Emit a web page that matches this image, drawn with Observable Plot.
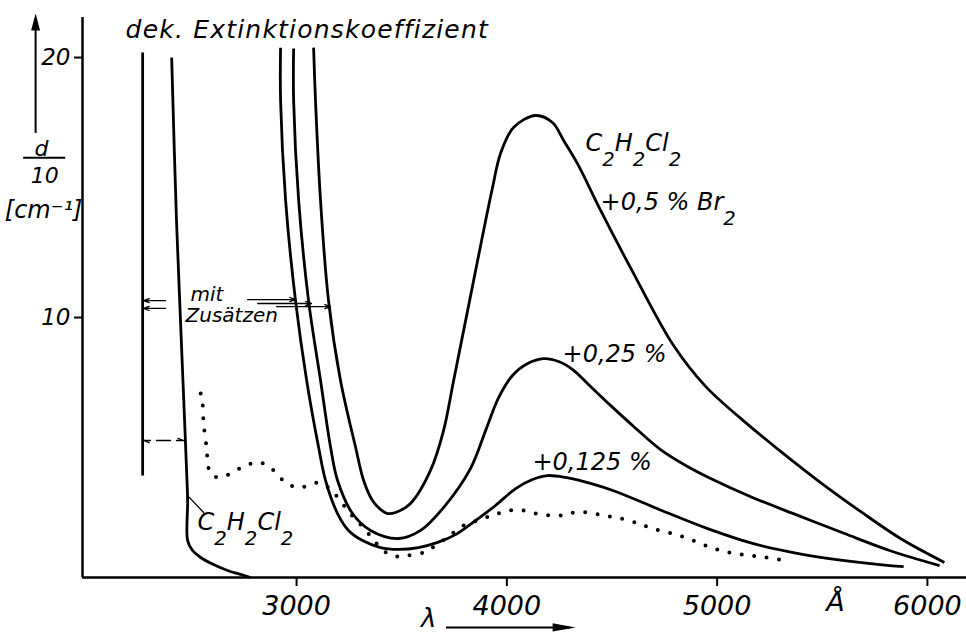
<!DOCTYPE html>
<html><head><meta charset="utf-8">
<script src="https://cdn.jsdelivr.net/npm/d3@7"></script>
<script src="https://cdn.jsdelivr.net/npm/@observablehq/plot@0.6"></script>
<style>html,body{margin:0;padding:0;background:#fff;}</style>
</head><body>
<div id="chart"></div>
<script>
// ---- axes ----
const xTicks = [3000, 4000, 5000, 6000];
const yTicks = [10, 20];

// ---- curves: wavelength (Å) and d/10 (cm^-1) ----
const wallLambda = [2268, 2268];
const wallValue  = [20.19, 3.92];

const pureLambda = [2406, 2429, 2448, 2463, 2477, 2482, 2482, 2505, 2544, 2605, 2672, 2734, 2781];
const pureValue  = [20.0, 13.73, 9.88, 6.92, 4.12, 2.96, 1.42, 1.04, 0.77, 0.5, 0.27, 0.12, 0.0];

const br125Lambda = [2924, 2924, 2948, 2995, 3048, 3105, 3138, 3195, 3247, 3314, 3399, 3480, 3580, 3671, 3756, 3851, 3946, 4042, 4122, 4194, 4279, 4398, 4517, 4736, 4955, 5169, 5387, 5606, 5820, 5887];
const br125Value  = [20.38, 18.35, 14.5, 10.65, 7.58, 5.0, 3.73, 2.46, 1.81, 1.42, 1.15, 1.08, 1.15, 1.35, 1.65, 2.19, 2.77, 3.42, 3.77, 3.92, 3.85, 3.62, 3.31, 2.58, 1.88, 1.31, 0.92, 0.65, 0.46, 0.42];

const br25Lambda = [2986, 2986, 3010, 3057, 3114, 3162, 3195, 3266, 3352, 3485, 3590, 3699, 3827, 3899, 3961, 4027, 4099, 4175, 4246, 4313, 4398, 4493, 4603, 4731, 4859, 4969, 5168, 5387, 5606, 5820, 6058];
const br25Value  = [20.35, 18.35, 14.5, 10.65, 7.58, 5.0, 3.73, 2.46, 1.81, 1.5, 1.81, 2.69, 4.19, 5.65, 6.92, 7.77, 8.23, 8.42, 8.31, 8.0, 7.35, 6.62, 5.81, 4.92, 4.27, 3.81, 3.08, 2.38, 1.69, 1.04, 0.46];

const br5Lambda = [3081, 3090, 3114, 3152, 3209, 3281, 3319, 3361, 3399, 3433, 3471, 3542, 3637, 3699, 3747, 3823, 3880, 3932, 3970, 4032, 4137, 4217, 4270, 4336, 4446, 4588, 4793, 4945, 5112, 5302, 5492, 5682, 5872, 6081];
const br5Value  = [20.38, 18.35, 14.5, 10.65, 7.58, 5.0, 3.73, 2.96, 2.62, 2.46, 2.5, 2.85, 4.12, 5.65, 7.58, 10.65, 12.96, 15.0, 16.31, 17.31, 17.77, 17.5, 16.81, 15.92, 14.12, 11.92, 8.92, 7.35, 6.12, 4.85, 3.65, 2.54, 1.5, 0.58];

const dottedLambda = [2544, 2553, 2558, 2572, 2582, 2601, 2639, 2696, 2748, 2805, 2843, 2891, 2948, 3005, 3057, 3105, 3152, 3200, 3247, 3295, 3338, 3376, 3433, 3480, 3528, 3604, 3661, 3723, 3794, 3875, 3956, 4018, 4075, 4136, 4255, 4322, 4388, 4465, 4541, 4626, 4693, 4788, 4888, 4973, 5059, 5149, 5235, 5320];
const dottedValue  = [7.08, 6.69, 5.92, 5.0, 4.19, 3.92, 3.85, 4.04, 4.27, 4.42, 4.38, 4.12, 3.65, 3.46, 3.54, 3.65, 3.46, 3.04, 2.54, 2.12, 1.73, 1.35, 0.92, 0.81, 0.85, 0.96, 1.23, 1.58, 2.0, 2.23, 2.46, 2.58, 2.58, 2.46, 2.38, 2.5, 2.5, 2.38, 2.27, 2.08, 1.88, 1.69, 1.42, 1.15, 0.96, 0.85, 0.77, 0.65];

// ---- texts ----
const titleText = "dek. Extinktionskoeffizient";
const yLabelParts = ["d", "10", "[cm⁻¹]"];
const curveLabels = ["C₂H₂Cl₂", "+0,5 % Br₂", "+0,25 %", "+0,125 %", "C₂H₂Cl₂"];
const noteLabels = ["mit", "Zusätzen"];
const unitLabel = "Å";
const lambdaLabel = "λ";

const rows = (l, v) => l.map((x, i) => ({lambda: x, value: v[i]}));

const headUp = {draw(ctx) { ctx.moveTo(0, 0); ctx.lineTo(-4.5, 17); ctx.lineTo(4.5, 17); ctx.closePath(); }};
const headRight = {draw(ctx) { ctx.moveTo(0, 0); ctx.lineTo(-23, -4.2); ctx.lineTo(-23, 4.2); ctx.closePath(); }};

const hasAxisMarks = typeof Plot.axisX === "function";
const lineOpts = {x: "lambda", y: "value", stroke: "black", strokeWidth: 2.8, curve: "catmull-rom", strokeLinecap: "butt", strokeLinejoin: "round"};
const txt = {lineAnchor: "bottom", textAnchor: "start", fill: "black"};
const smallArrow = {stroke: "black", strokeWidth: 1.3, headLength: 7, headAngle: 40};

const plot = Plot.plot({
  width: 966, height: 637,
  marginLeft: 82, marginRight: 0, marginTop: 17, marginBottom: 60,
  style: {fontFamily: "DejaVu Sans", fontStyle: "oblique", fontSize: "27px", background: "#fff", color: "#000", overflow: "visible"},
  x: Object.assign({domain: [1982, 6186]}, hasAxisMarks ? {} : {ticks: xTicks, tickFormat: d => String(d), tickSize: 9, tickPadding: 9, label: null}),
  y: Object.assign({domain: [0, 21.54]}, hasAxisMarks ? {} : {ticks: yTicks, tickSize: 8, tickPadding: 4, label: null}),
  marks: [
    ...(hasAxisMarks ? [
      Plot.axisX(xTicks, {tickSize: 9, tickPadding: 9, tickFormat: d => String(d), fontSize: 27, strokeWidth: 2, label: null}),
      Plot.axisY(yTicks, {tickSize: 8, tickPadding: 4, fontSize: 23, strokeWidth: 2, label: null})
    ] : []),
    Plot.ruleX([1982], {y1: 0, y2: 21.54, stroke: "black", strokeWidth: 2.5}),
    Plot.ruleY([0], {stroke: "black", strokeWidth: 2.5}),
    Plot.line(rows(wallLambda, wallValue), lineOpts),
    Plot.line(rows(pureLambda, pureValue), lineOpts),
    Plot.line(rows(br125Lambda, br125Value), lineOpts),
    Plot.line(rows(br25Lambda, br25Value), lineOpts),
    Plot.line(rows(br5Lambda, br5Value), lineOpts),
    Plot.line(rows(dottedLambda, dottedValue), {x: "lambda", y: "value", stroke: "black", strokeWidth: 4, strokeLinecap: "round", strokeDasharray: "0 12.5", curve: "catmull-rom"}),
    // arrows pointing to the curves
    Plot.arrow([{x1: 2377, x2: 2272, y: 10.65}, {x1: 2377, x2: 2272, y: 10.35}], {x1: "x1", x2: "x2", y1: "y", y2: "y", ...smallArrow}),
    Plot.arrow([{x1: 2767, x2: 2995, y: 10.69}, {x1: 2815, x2: 3071, y: 10.54}, {x1: 2905, x2: 3162, y: 10.42}], {x1: "x1", x2: "x2", y1: "y", y2: "y", ...smallArrow}),
    Plot.arrow([{x1: 2367, x2: 2272}, {x1: 2367, x2: 2463}], {x1: "x1", x2: "x2", y1: 5.27, y2: 5.27, ...smallArrow, strokeDasharray: "7 6"}),
    Plot.line([{lambda: 2482, value: 3.15}, {lambda: 2558, value: 2.5}], {x: "lambda", y: "value", stroke: "black", strokeWidth: 1.3}),
    // y-axis arrow and label
    Plot.ruleX([1759], {y1: 17.08, y2: 21.2, stroke: "black", strokeWidth: 2}),
    Plot.dot([0], {x: 1759, y: 21.69, symbol: headUp, fill: "black", stroke: "none"}),
    Plot.text([yLabelParts[0]], {...txt, x: 1787, y: 16.23, textAnchor: "middle", fontSize: 22}),
    Plot.ruleY([16.15], {x1: 1702, x2: 1902, stroke: "black", strokeWidth: 2}),
    Plot.text([yLabelParts[1]], {...txt, x: 1802, y: 15.19, textAnchor: "middle", fontSize: 22}),
    Plot.text([yLabelParts[2]], {...txt, x: 1797, y: 13.81, textAnchor: "middle", fontSize: 24}),
    // x-axis unit and lambda arrow
    Plot.text([unitLabel], {...txt, x: 5563, y: -1.27, textAnchor: "middle", fontSize: 27}),
    Plot.text([lambdaLabel], {...txt, x: 3628, y: -1.9, textAnchor: "middle", fontSize: 26}),
    Plot.ruleY([-1.92], {x1: 3713, x2: 4300, stroke: "black", strokeWidth: 2}),
    Plot.dot([0], {x: 4327, y: -1.92, symbol: headRight, fill: "black", stroke: "none"}),
    // texts
    Plot.text([titleText], {...txt, x: 2187, y: 20.77, fontSize: 25}),
    Plot.text([curveLabels[0]], {...txt, x: 4374, y: 16.42, fontSize: 24}),
    Plot.text([curveLabels[1]], {...txt, x: 4446, y: 14.12, fontSize: 24}),
    Plot.text([curveLabels[2]], {...txt, x: 4265, y: 8.27, fontSize: 24}),
    Plot.text([curveLabels[3]], {...txt, x: 4122, y: 4.12, fontSize: 24}),
    Plot.text([curveLabels[4]], {...txt, x: 2529, y: 1.81, fontSize: 24}),
    Plot.text([noteLabels[0]], {...txt, x: 2496, y: 10.65, fontSize: 20}),
    Plot.text([noteLabels[1]], {...txt, x: 2472, y: 9.81, fontSize: 20})
  ]
});
document.getElementById("chart").append(plot);

// axis text styling (fallback for built-in axes)
plot.querySelectorAll('[aria-label^="y-axis"] text').forEach(t => t.setAttribute("font-size", 23));
plot.querySelectorAll('[aria-label^="x-axis"] text').forEach(t => t.setAttribute("font-size", 27));
plot.querySelectorAll('[aria-label^="x-axis"] line, [aria-label^="x-axis"] path, [aria-label^="y-axis"] line, [aria-label^="y-axis"] path').forEach(p => p.setAttribute("stroke-width", 2));

// letter spacing for the title
plot.querySelectorAll("text").forEach(el => {
  if (el.textContent === titleText) el.setAttribute("letter-spacing", "1.2");
});

// real subscripts
plot.querySelectorAll("text").forEach(el => {
  const t = el.textContent;
  if (!t.includes("₂")) return;
  const fs = parseFloat(getComputedStyle(el).fontSize) || 24;
  const drop = 0.62 * fs;
  while (el.firstChild) el.removeChild(el.firstChild);
  let lowered = false;
  for (const part of t.split(/(₂)/)) {
    if (!part) continue;
    const ts = document.createElementNS("http://www.w3.org/2000/svg", "tspan");
    if (part === "₂") {
      ts.textContent = "2";
      ts.setAttribute("font-size", (0.82 * fs) + "px");
      if (!lowered) ts.setAttribute("dy", drop);
      lowered = true;
    } else {
      ts.textContent = part;
      if (lowered) ts.setAttribute("dy", -drop);
      lowered = false;
    }
    el.appendChild(ts);
  }
});
</script>
</body></html>
